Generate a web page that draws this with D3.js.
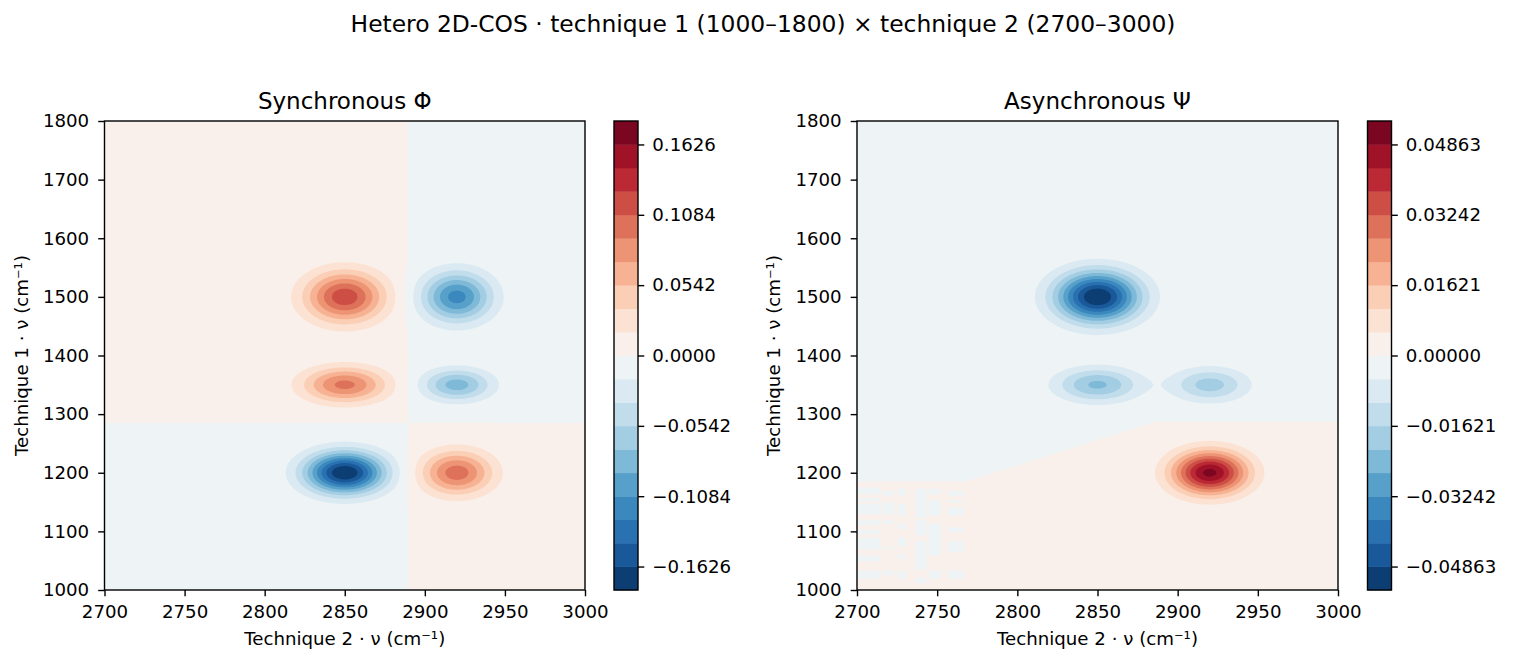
<!DOCTYPE html>
<html>
<head>
<meta charset="utf-8">
<script src="https://cdn.jsdelivr.net/npm/d3@7"></script>
<style>
  body { margin: 0; background: #fff; }
  text { font-family: "DejaVu Sans", sans-serif; fill: #000; }
</style>
</head>
<body>
<svg id="fig" width="1515" height="663"></svg>
<script>
const xDomain = [2700, 3000]
const yDomain = [1000, 1800]
const xTicks = [2700, 2750, 2800, 2850, 2900, 2950, 3000]
const yTicks = [1000, 1100, 1200, 1300, 1400, 1500, 1600, 1700, 1800]

// peaks: [x, y, sigma x, sigma y, amplitude]
const syncPeaks = [
  [2850, 1500, 17, 30, 0.12],
  [2920, 1500, 15, 29.5, -0.115],
  [2850, 1350, 18, 21, 0.095],
  [2920, 1350, 15, 19, -0.08],
  [2850, 1200, 17, 24.5, -0.1807],
  [2920, 1200, 15.3, 25.8, 0.1]
]
const syncVmax = 0.18067
const syncTicks = [-0.1626, -0.1084, -0.0542, 0, 0.0542, 0.1084, 0.1626]
// weak background: sign flips at x split / y split
const syncSplit = [2889, 1285]
const syncQuadSigns = [1, -1, -1, 1] // top-left, top-right, bottom-left, bottom-right

const asyncPeaks = [
  [2850, 1500, 18, 30, -0.054],
  [2850, 1350, 17.8, 20, -0.0225],
  [2920, 1350, 16.3, 20, -0.0185],
  [2920, 1200, 16, 25.5, 0.05]
]
const asyncVmax = 0.054033
const asyncTicks = [-0.04863, -0.03242, -0.01621, 0, 0.01621, 0.03242, 0.04863]
// below this line the weak background is positive
const asyncBoundary = [[2700, 1184], [2767, 1184], [2886, 1287], [3000, 1287]]
// bluish streaks in the lower-left corner: [x0, x1, y0, y1]
const asyncStreaks = [
  [2700, 2714, 1164, 1174], [2700, 2714, 1152, 1156], [2700, 2714, 1130, 1146], [2700, 2714, 1112, 1118],
  [2700, 2714, 1096, 1103], [2700, 2714, 1070, 1089], [2700, 2714, 1050, 1058], [2700, 2714, 1019, 1032],
  [2716, 2723, 1161, 1169], [2716, 2723, 1130, 1149], [2716, 2723, 1113, 1118], [2716, 2723, 1069, 1073],
  [2716, 2723, 1025, 1032],
  [2726, 2730, 1161, 1172], [2726, 2730, 1127, 1146], [2726, 2730, 1104, 1112], [2726, 2730, 1076, 1089],
  [2726, 2730, 1053, 1061], [2726, 2730, 1019, 1032],
  [2737, 2743, 1124, 1172], [2737, 2743, 1093, 1118], [2737, 2743, 1036, 1083], [2737, 2743, 1011, 1021],
  [2745, 2752, 1164, 1172], [2745, 2752, 1127, 1152], [2745, 2752, 1059, 1112], [2745, 2752, 1019, 1032],
  [2757, 2766, 1161, 1169], [2757, 2766, 1149, 1153], [2757, 2766, 1127, 1140], [2757, 2766, 1099, 1106],
  [2757, 2766, 1065, 1083], [2757, 2766, 1019, 1032]
]

// matplotlib RdBu stops, reversed to RdBu_r
const rdbuStops = ['#67001f', '#b2182b', '#d6604d', '#f4a582', '#fddbc7', '#f7f7f7',
  '#d1e5f0', '#92c5de', '#4393c3', '#2166ac', '#053061'].reverse()
const cmap = d3.scaleLinear()
  .domain(d3.range(11).map(i => i / 10))
  .range(rdbuStops)
  .interpolate(d3.interpolateRgb)
const nBands = 20
const bandColor = k => cmap((k + 0.5) / nBands)

const svg = d3.select('#fig')
const dx = 1
const dy = 2
const nx = (xDomain[1] - xDomain[0]) / dx + 1
const ny = (yDomain[1] - yDomain[0]) / dy + 1

function peakSum (peaks, x, y) {
  let v = 0
  peaks.forEach(([cx, cy, sx, sy, a]) => {
    v += a * Math.exp(-((x - cx) ** 2) / (2 * sx * sx) - ((y - cy) ** 2) / (2 * sy * sy))
  })
  return v
}

function syncBg (x, y, eps) {
  const right = x > syncSplit[0] ? 1 : 0
  const bottom = y < syncSplit[1] ? 2 : 0
  return eps * syncQuadSigns[right + bottom]
}

const boundaryLine = d3.scaleLinear()
  .domain(asyncBoundary.map(d => d[0]))
  .range(asyncBoundary.map(d => d[1]))

function asyncBg (x, y, eps) {
  for (const [x0, x1, y0, y1] of asyncStreaks) {
    if (x >= x0 && x <= x1 && y >= y0 && y <= y1) return -eps
  }
  return y > boundaryLine(x) ? -eps : eps
}

function buildGrid (peaks, bg, vmax) {
  const eps = vmax / 10 * 0.05
  const values = new Float64Array(nx * ny)
  for (let j = 0; j < ny; j++) {
    const y = yDomain[0] + j * dy
    for (let i = 0; i < nx; i++) {
      const x = xDomain[0] + i * dx
      values[i + j * nx] = peakSum(peaks, x, y) + bg(x, y, eps)
    }
  }
  return values
}

const axTop = 121
const axBottom = 590
const tickFont = '18.2px'
const lw = 1.4

function styleAxis (a) {
  a.select('.domain').remove()
  a.selectAll('line').attr('stroke', '#000').attr('stroke-width', lw)
  a.selectAll('text').attr('font-size', tickFont).attr('font-family', '"DejaVu Sans", sans-serif')
}

function drawPanel (opts) {
  const { left, right, cbLeft, cbRight, title, values, vmax, ticks, fmt, id } = opts
  const xScale = d3.scaleLinear().domain(xDomain).range([left, right])
  const yScale = d3.scaleLinear().domain(yDomain).range([axBottom, axTop])

  svg.append('clipPath').attr('id', `clip-${id}`)
    .append('rect')
    .attr('x', left).attr('y', axTop)
    .attr('width', right - left).attr('height', axBottom - axTop)

  const step = vmax / 10
  const levels = d3.range(nBands + 1).map(k => -vmax + k * step)
  const contours = d3.contours().size([nx, ny]).thresholds(levels.slice(1, nBands))(values)

  const proj = d3.geoTransform({
    point (x, y) {
      this.stream.point(xScale(xDomain[0] + (x - 0.5) * dx), yScale(yDomain[0] + (y - 0.5) * dy))
    }
  })
  const path = d3.geoPath(proj)

  const g = svg.append('g').attr('clip-path', `url(#clip-${id})`)
  g.append('rect')
    .attr('x', left).attr('y', axTop)
    .attr('width', right - left).attr('height', axBottom - axTop)
    .attr('fill', bandColor(0))
  g.selectAll('path')
    .data(contours)
    .enter().append('path')
    .attr('d', path)
    .attr('fill', (d, i) => bandColor(i + 1))

  // axes
  svg.append('g')
    .attr('transform', `translate(0,${axBottom})`)
    .call(d3.axisBottom(xScale).tickValues(xTicks).tickFormat(d3.format('d')).tickSize(6.3).tickPadding(8.5))
    .call(styleAxis)
  svg.append('g')
    .attr('transform', `translate(${left},0)`)
    .call(d3.axisLeft(yScale).tickValues(yTicks).tickFormat(d3.format('d')).tickSize(6.3).tickPadding(9))
    .call(styleAxis)

  svg.append('rect')
    .attr('x', left).attr('y', axTop)
    .attr('width', right - left).attr('height', axBottom - axTop)
    .attr('fill', 'none').attr('stroke', '#000').attr('stroke-width', lw)

  svg.append('text')
    .attr('x', (left + right) / 2).attr('y', 109)
    .attr('text-anchor', 'middle').attr('font-size', '23px')
    .text(title)

  svg.append('text')
    .attr('x', (left + right) / 2).attr('y', 645)
    .attr('text-anchor', 'middle').attr('font-size', tickFont)
    .text('Technique 2 · ν (cm⁻¹)')

  svg.append('text')
    .attr('transform', `translate(${left - 77},${(axTop + axBottom) / 2}) rotate(-90)`)
    .attr('text-anchor', 'middle').attr('font-size', tickFont)
    .text('Technique 1 · ν (cm⁻¹)')

  // colorbar
  const cScale = d3.scaleLinear().domain([-vmax, vmax]).range([axBottom, axTop])
  svg.append('g').selectAll('rect')
    .data(d3.range(nBands))
    .enter().append('rect')
    .attr('x', cbLeft)
    .attr('y', k => cScale(levels[k + 1]))
    .attr('width', cbRight - cbLeft)
    .attr('height', k => cScale(levels[k]) - cScale(levels[k + 1]) + 0.4)
    .attr('fill', k => bandColor(k))
  svg.append('g')
    .attr('transform', `translate(${cbRight},0)`)
    .call(d3.axisRight(cScale).tickValues(ticks).tickFormat(d3.format(fmt)).tickSize(6.3).tickPadding(8))
    .call(styleAxis)
  svg.append('rect')
    .attr('x', cbLeft).attr('y', axTop)
    .attr('width', cbRight - cbLeft).attr('height', axBottom - axTop)
    .attr('fill', 'none').attr('stroke', '#000').attr('stroke-width', lw)
}

svg.append('text')
  .attr('x', 763).attr('y', 32)
  .attr('text-anchor', 'middle').attr('font-size', '23.4px')
  .text('Hetero 2D-COS · technique 1 (1000–1800) × technique 2 (2700–3000)')

drawPanel({
  id: 'sync',
  left: 104.5,
  right: 585,
  cbLeft: 614,
  cbRight: 638,
  title: 'Synchronous Φ',
  values: buildGrid(syncPeaks, syncBg, syncVmax),
  vmax: syncVmax,
  ticks: syncTicks,
  fmt: '.4f'
})

drawPanel({
  id: 'async',
  left: 857,
  right: 1338,
  cbLeft: 1367.5,
  cbRight: 1391.5,
  title: 'Asynchronous Ψ',
  values: buildGrid(asyncPeaks, asyncBg, asyncVmax),
  vmax: asyncVmax,
  ticks: asyncTicks,
  fmt: '.5f'
})
</script>
</body>
</html>
